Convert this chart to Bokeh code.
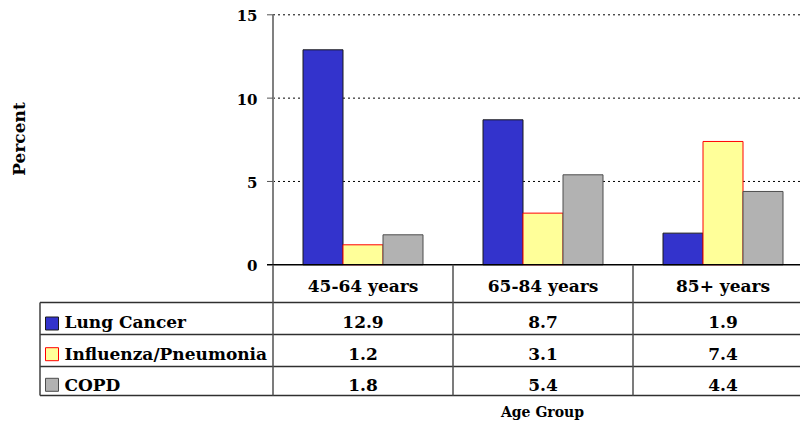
import numpy as np
from bokeh.plotting import figure
from bokeh.models import Range1d
from bokeh.core.properties import value
from bokeh.embed import file_html
from bokeh.resources import INLINE

# ---------------- data ----------------
categories = ["45-64 years", "65-84 years", "85+ years"]
series_names = ["Lung Cancer", "Influenza/Pneumonia", "COPD"]
lung_cancer = [12.9, 8.7, 1.9]
influenza_pneumonia = [1.2, 3.1, 7.4]
copd = [1.8, 5.4, 4.4]
y_ticks = [0, 5, 10, 15]
y_label = "Percent"
x_label = "Age Group"

series_values = [lung_cancer, influenza_pneumonia, copd]
fills = ["#3333CC", "#FFFF99", "#B2B2B2"]
lines = ["#1a1a1a", "#FF0000", "#4d4d4d"]

# ---------------- layout helpers ----------------
W, H = 800, 423
AX_PX, ZERO_PX = 272.5, 264.3     # axis x / zero y in pixels
CAT_PX = 180.0                    # width of a category in pixels
UNIT_PX = 250.0 / 15.0            # pixels per percent

def fx(ix):  # pixel x -> data x
    return (ix - AX_PX) / CAT_PX

def fy(iy):  # pixel y -> data y
    return (ZERO_PX - iy) / UNIT_PX

x0 = -AX_PX / CAT_PX
x1 = (W - AX_PX) / CAT_PX
y1 = ZERO_PX / UNIT_PX
y0 = -(H - ZERO_PX) / UNIT_PX

p = figure(width=W, height=H, x_range=Range1d(x0, x1), y_range=Range1d(y0, y1),
           x_axis_type=None, y_axis_type=None, toolbar_location=None,
           output_backend="svg", min_border=0)
p.outline_line_color = None
p.background_fill_color = "white"
p.border_fill_color = "white"

FONT = value("DejaVu Serif")
X_END = x1 + 0.2

# grid lines (dotted)
grid_y = [t for t in y_ticks if t > 0]
p.segment(x0=[0] * len(grid_y), x1=[X_END] * len(grid_y), y0=grid_y, y1=grid_y,
          line_color="black", line_width=1, line_dash="2 3")

# bars
n = len(series_values)
bw = 40.0 / CAT_PX
centers = np.arange(len(categories)) + 0.5
for i, (vals, fc, lc) in enumerate(zip(series_values, fills, lines)):
    xs = centers + (i - (n - 1) / 2) * bw
    p.vbar(x=xs, width=bw, bottom=0, top=vals, fill_color=fc, line_color=lc, line_width=1)

# y axis line and ticks
p.segment(x0=[0], x1=[0], y0=[0], y1=[max(y_ticks)], line_color="#808080", line_width=2)
tick_len = 6.0 / CAT_PX
p.segment(x0=[-tick_len] * len(grid_y), x1=[0] * len(grid_y), y0=grid_y, y1=grid_y,
          line_color="#555555", line_width=1)
# zero line
p.segment(x0=[-tick_len], x1=[X_END], y0=[0], y1=[0], line_color="black", line_width=1.5)

# tick labels
p.text(x=[fx(257)] * len(y_ticks), y=[t - 1.0 / UNIT_PX for t in y_ticks],
       text=[str(t) for t in y_ticks], text_align="right", text_baseline="middle",
       text_font=FONT, text_font_style="bold", text_font_size="15px", text_color="black")

# y label
p.text(x=[fx(18.5)], y=[fy(138.5)], text=[y_label], angle=np.pi / 2,
       text_align="center", text_baseline="middle", text_font=FONT,
       text_font_style="bold", text_font_size="17px", text_color="black")

# ---------------- data table ----------------
row_lines_px = [302, 334, 366, 395]
row_y = [fy(v) for v in row_lines_px]
tab_left = fx(39.5)
p.segment(x0=[tab_left] * len(row_y), x1=[X_END] * len(row_y), y0=row_y, y1=row_y,
          line_color="#303030", line_width=1.5)
# vertical lines
p.segment(x0=[tab_left], x1=[tab_left], y0=[row_y[0]], y1=[row_y[-1]],
          line_color="#404040", line_width=1.5)
vx = list(range(len(categories)))
p.segment(x0=vx, x1=vx, y0=[0] * len(vx), y1=[row_y[-1]] * len(vx),
          line_color="#505050", line_width=1.5)

# header labels
p.text(x=centers, y=[fy(285.3)] * len(categories), text=categories,
       text_align="center", text_baseline="middle", text_font=FONT,
       text_font_style="bold", text_font_size="17px", text_color="black")

text_mid = [fy(321.5), fy(353.7), fy(384.0)]
sw_centers = [fy(323), fy(353.7), fy(384.3)]
for i, (name, vals) in enumerate(zip(series_names, series_values)):
    p.scatter(x=[fx(51.5)], y=[sw_centers[i]], marker="square", size=13,
              fill_color=fills[i], line_color=lines[i], line_width=1)
    p.text(x=[fx(64)], y=[text_mid[i]], text=[name], text_align="left",
           text_baseline="middle", text_font=FONT, text_font_style="bold",
           text_font_size="17px", text_color="black")
    p.text(x=centers, y=[text_mid[i]] * len(vals), text=[f"{v:.1f}" for v in vals],
           text_align="center", text_baseline="middle", text_font=FONT,
           text_font_style="bold", text_font_size="17px", text_color="black")

# x label
p.text(x=[fx(542)], y=[fy(411)], text=[x_label], text_align="center",
       text_baseline="middle", text_font=FONT, text_font_style="bold",
       text_font_size="14px", text_color="black")

open("out.html", "w").write(file_html(p, INLINE))
